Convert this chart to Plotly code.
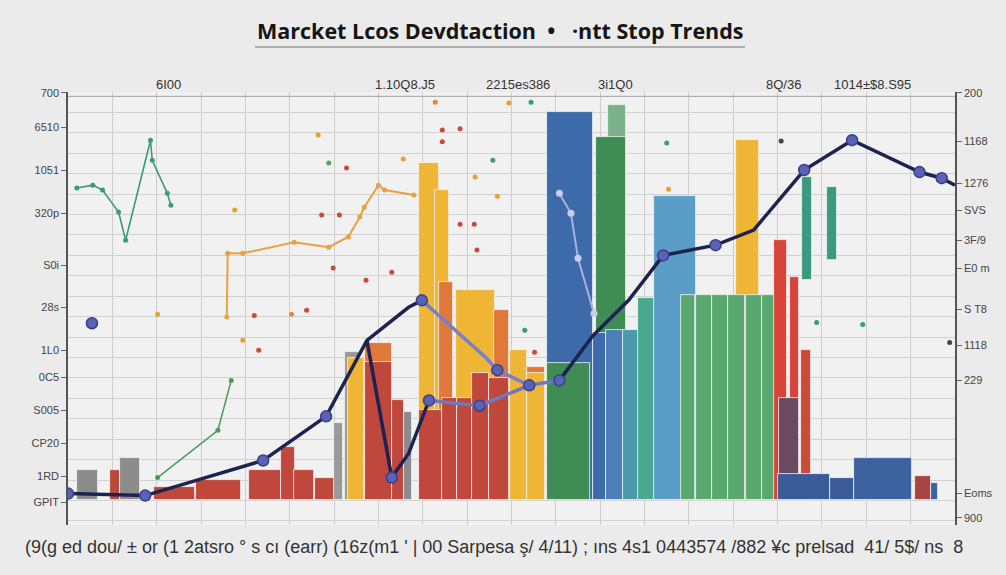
import plotly.graph_objects as go

# ---------------- data ----------------
bar_pos = [2.2, 5.3, 7.0, 12.0, 17.0, 22.2, 24.8, 26.6, 29.3, 30.5, 32.0, 32.5, 35.0, 35.0, 37.2, 38.3,
           40.7, 42.2, 42.6, 45.9, 48.9, 40.9, 43.0, 44.7, 46.5, 48.6, 50.8, 52.8, 52.8,
           56.6, 56.4, 61.9, 61.2, 59.9, 61.6, 63.7, 65.2, 68.4, 76.6,
           69.9, 71.7, 73.5, 75.4, 77.3, 79.0, 80.3, 81.9, 83.2, 81.3, 83.3, 86.1,
           83.0, 87.3, 91.9, 96.4, 97.7]
bar_value = [7.4, 7.4, 10.3, 3.2, 4.9, 7.4, 13.0, 7.4, 5.4, 18.9, 36.3, 35.0, 38.5, 33.8, 24.5, 21.6,
             82.6, 76.0, 53.4, 51.5, 46.6, 22.1, 25.2, 25.2, 31.1, 30.1, 36.8, 32.6, 31.1,
             95.1, 33.6, 96.8, 89.0, 40.9, 41.7, 41.7, 49.5, 74.5, 88.2,
             50.2, 50.2, 50.2, 50.2, 50.2, 50.2, 63.7, 54.7, 36.8, 25.2, 25.3, 17.9,
             6.6, 5.6, 10.3, 6.1, 4.2]
bar_base = [0] * 49 + [53.9, 58.8] + [0] * 5
bar_width = [2.4, 1.1, 2.3, 4.7, 5.1, 3.7, 1.5, 2.3, 3.0, 1.1, 1.6, 1.8, 3.1, 3.1, 1.4, 0.9,
             2.2, 1.6, 1.5, 4.4, 1.7, 2.6, 1.7, 1.7, 1.9, 2.3, 2.0, 2.0, 2.0,
             5.2, 4.8, 2.0, 3.4, 1.5, 1.9, 2.3, 1.9, 4.7, 2.5,
             1.5, 1.8, 1.9, 1.9, 1.8, 1.6, 1.5, 1.1, 1.1, 2.3, 1.1, 1.1,
             5.8, 2.7, 6.5, 1.8, 0.8]
GR, RD, YL, OR, BL, GN = "#8c8c8c", "#c0473b", "#efb535", "#e0783a", "#3d6aa8", "#3f8c55"
bar_color = [GR, "#b84a3c", GR, RD, RD, RD, RD, RD, RD, "#9a9a9a", "#9a9a9a", YL, OR, RD, RD, "#8a8a90",
             YL, YL, OR, YL, OR, RD, RD, RD, RD, RD, YL, OR, YL,
             BL, GN, "#7ab08a", GN, BL, "#4a7fb8", "#4a9aaa", "#4aa890", "#5a9ec8", YL,
             "#58a870", "#58a870", "#58a870", "#58a870", "#58a870", "#58a870",
             "#d9443a", "#d9443a", "#cc4a3a", "#6a4a60", "#3a9a80", "#3a9a80",
             "#3a5a98", "#3a5a98", "#3e62a0", "#a84444", "#3e62a0"]

# navy trend line pieces
l1_x = [0, 8.7, 22.0, 29.1, 33.7, 38.4, 39.9]
l1_y = [1.7, 1.2, 9.8, 20.6, 39.2, 47.3, 49.0]
l2_x = [33.7, 36.5, 38.4, 40.7]
l2_y = [39.2, 5.6, 11.5, 24.5]
l5_x = [55.4, 59.2, 63.2, 67.1, 73.0, 77.3, 83.0, 88.4, 96.0, 98.5, 100]
l5_y = [29.4, 40.4, 49.0, 60.0, 62.5, 66.2, 80.9, 88.2, 80.4, 78.9, 77.2]
# lavender pieces
l3_x = [39.9, 47.1, 48.4, 52.0]
l3_y = [49.0, 35.0, 31.9, 28.2]
l4_x = [40.7, 46.4, 52.0, 55.4]
l4_y = [24.5, 23.2, 28.2, 29.4]
l6_x = [55.4, 56.7, 57.5, 59.3]
l6_y = [75.2, 70.3, 59.3, 45.8]
# markers
mk_x = [0, 8.7, 22.0, 29.1, 36.5, 39.9, 40.7, 46.4, 48.4, 52.0, 55.4, 67.1, 73.0, 83.0, 88.4, 96.0, 98.5, 2.7]
mk_y = [1.7, 1.2, 9.8, 20.6, 5.6, 49.0, 24.5, 23.2, 31.9, 28.2, 29.4, 60.0, 62.5, 80.9, 88.2, 80.4, 78.9, 43.4]

# thin decorative lines
green_x = [1.0, 2.8, 3.9, 5.7, 6.5, 9.3, 9.5, 11.2, 11.6]
green_y = [76.5, 77.2, 76.0, 70.6, 63.7, 88.2, 83.3, 75.2, 72.3]
green2_x = [10.1, 16.9, 18.4]
green2_y = [5.6, 17.2, 29.4]
orange_x = [17.9, 18.0, 19.7, 25.5, 29.4, 31.6, 32.9, 33.4, 35.0, 35.7, 39.0]
orange_y = [44.9, 60.5, 60.5, 63.2, 62.0, 64.5, 69.4, 71.8, 77.2, 76.0, 74.8]

# confetti dots
dot_x = [18.8, 28.2, 29.4, 31.4, 28.6, 30.6, 29.9, 21.0, 25.2, 26.9, 19.7, 21.5, 10.1,
         41.4, 49.7, 52.2, 42.2, 44.2, 42.2, 37.8, 48.4, 44.2, 45.8, 46.1, 36.5, 33.6,
         51.5, 52.6, 45.9, 47.9, 67.5, 67.7, 80.4, 84.4, 89.6, 99.4]
dot_y = [71.1, 89.5, 82.6, 81.4, 69.9, 69.9, 56.9, 45.3, 45.6, 46.6, 39.2, 36.8, 45.6,
         97.5, 97.3, 97.5, 90.7, 91.0, 87.8, 83.6, 74.5, 67.6, 67.6, 61.3, 55.9, 53.9,
         41.7, 36.3, 79.2, 83.3, 87.5, 76.2, 88.0, 43.6, 43.1, 38.7]
dot_c = ["#e8a030", "#e8a030", "#5aa060", "#c84a3a", "#c84a3a", "#c84a3a", "#c84a3a", "#c84a3a", "#e0883a",
         "#c84a3a", "#e8a030", "#c84a3a", "#e8a030",
         "#e0883a", "#e8a030", "#3a9a80", "#c84a3a", "#c84a3a", "#c84a3a", "#e8a030", "#e8a030",
         "#c84a3a", "#c84a3a", "#c84a3a", "#c84a3a", "#c84a3a",
         "#3a9a80", "#c84a3a", "#e8a030", "#3a9a80", "#3a9a80", "#e8a030", "#444444", "#3a9a80",
         "#3a9a80", "#444444"]

left_ticks = [99.8, 91.4, 80.9, 70.3, 57.6, 47.3, 36.8, 30.1, 22.1, 14.0, 5.9, -0.5]
left_labels = ["700", "6510", "1051", "320p", "S0i", "28s", "1L0", "0C5", "S005", "CP20", "1RD", "GPIT"]
right_ticks = [99.8, 88.0, 77.7, 71.1, 63.7, 56.9, 46.8, 38.0, 29.4, 1.7, -4.2]
right_labels = ["200", "1168", "1276", "SVS", "3F/9", "E0 m", "S T8", "1118", "229", "Eoms", "900"]
top_pos = [11.3, 38.0, 50.7, 61.7, 80.7, 90.7]
top_labels = ["6I00", "1.10Q8.J5", "2215es386", "3i1Q0", "8Q/36", "1014±$8.S95"]

title_text = "Marcket Lcos Devdtaction  •   ·ntt Stop Trends"
bottom_text = ("(9(g ed dou/ ± or (1 2atsro ° s cı (earr) (16z(m1 ' | 00 Sarpesa ş/ 4/11) ; ıns "
               "4s1 0443574 /882 ¥c prelsad  41/ 5$/ ns  8")

# ---------------- figure ----------------
fig = go.Figure()
# hidden axis carrying the horizontal grid
fig.add_trace(go.Scatter(x=[0], y=[0], yaxis="y3", mode="markers", marker=dict(opacity=0),
                         hoverinfo="skip"))
fig.add_trace(go.Bar(x=bar_pos, y=bar_value, base=bar_base, width=bar_width,
                     marker=dict(color=bar_color, line=dict(color="#f4f4f4", width=0.8)),
                     hoverinfo="skip"))

for xs, ys, col, w in [(green_x, green_y, "#3a9a7a", 1.6), (green2_x, green2_y, "#4a9a5a", 1.5),
                       (orange_x, orange_y, "#e8a040", 2.0)]:
    fig.add_trace(go.Scatter(x=xs, y=ys, mode="lines+markers", line=dict(color=col, width=w),
                             marker=dict(size=5, color=col), hoverinfo="skip"))

fig.add_trace(go.Scatter(x=dot_x, y=dot_y, mode="markers",
                         marker=dict(size=5, color=dot_c), hoverinfo="skip"))

for xs, ys, col, w in [(l3_x, l3_y, "#7a80c8", 3.5), (l4_x, l4_y, "#7078c0", 3.5),
                       (l6_x, l6_y, "#a8b0e0", 2.0)]:
    fig.add_trace(go.Scatter(x=xs, y=ys, mode="lines", line=dict(color=col, width=w), hoverinfo="skip"))
fig.add_trace(go.Scatter(x=l6_x, y=l6_y, mode="markers",
                         marker=dict(size=7, color="#c8ccee"), hoverinfo="skip"))
for xs, ys in [(l1_x, l1_y), (l2_x, l2_y), (l5_x, l5_y)]:
    fig.add_trace(go.Scatter(x=xs, y=ys, mode="lines", line=dict(color="#1c2350", width=3.5),
                             hoverinfo="skip"))
fig.add_trace(go.Scatter(x=mk_x, y=mk_y, mode="markers",
                         marker=dict(size=11, color="#5a62b8", line=dict(color="#3a3f88", width=1.5)),
                         hoverinfo="skip"))
# invisible trace to activate the right axis
fig.add_trace(go.Scatter(x=[0], y=[0], yaxis="y2", mode="markers", marker=dict(opacity=0),
                         hoverinfo="skip"))

annotations = []
annotations.append(dict(text=f"<b>{title_text}</b>", xref="paper", yref="paper", x=(500 - 68) / 887,
                        y=1 + (92 - 31) / 433, yanchor="middle", showarrow=False,
                        font=dict(family="Open Sans", size=21.5, color="#151515")))
for p, t in zip(top_pos, top_labels):
    annotations.append(dict(text=t, x=p, xref="x", yref="paper", y=1 + (92 - 84) / 433,
                            yanchor="middle", showarrow=False,
                            font=dict(family="Liberation Sans", size=13, color="#333")))
annotations.append(dict(text=bottom_text, xref="paper", yref="paper", x=(494 - 68) / 887,
                        y=(525 - 547) / 433, yanchor="middle", showarrow=False,
                        font=dict(family="Liberation Sans", size=18, color="#333")))

fig.update_layout(
    width=1006, height=575,
    margin=dict(l=68, r=51, t=92, b=50),
    paper_bgcolor="#ebebeb", plot_bgcolor="#f1f1f1",
    showlegend=False, barmode="overlay", bargap=0,
    annotations=annotations,
    shapes=[
        dict(type="line", xref="paper", yref="paper", x0=(255 - 68) / 887, x1=(745 - 68) / 887,
             y0=1 + (92 - 47) / 433, y1=1 + (92 - 47) / 433, line=dict(color="#9a9a9a", width=1.5)),
        dict(type="line", xref="paper", yref="paper", x0=0, x1=1, y0=0.99, y1=0.99,
             line=dict(color="#a0a0a0", width=1)),
    ],
    xaxis=dict(range=[0, 100], showticklabels=False, dtick=5, showgrid=True, gridcolor="#cdcdcd",
               gridwidth=1, zeroline=False, showline=False),
    yaxis=dict(range=[-6, 100], tickvals=left_ticks, ticktext=left_labels, ticks="outside",
               ticklen=5, tickcolor="#666", showline=True, linecolor="#555", linewidth=1.5,
               showgrid=False, zeroline=False,
               tickfont=dict(family="Liberation Sans", size=11, color="#444")),
    yaxis2=dict(range=[-6, 100], overlaying="y", side="right", tickvals=right_ticks,
                ticktext=right_labels, ticks="outside", ticklen=5, tickcolor="#666",
                showline=True, linecolor="#555", linewidth=1.5, showgrid=False, zeroline=False,
                tickfont=dict(family="Liberation Sans", size=11, color="#444")),
    yaxis3=dict(range=[-6, 100], overlaying="y", dtick=5, showgrid=True,
                gridcolor="#d2d2d2", showticklabels=False, zeroline=False),
)

fig.write_html("out.html", config={"displayModeBar": False},
               post_script="document.body.style.margin='0';")
